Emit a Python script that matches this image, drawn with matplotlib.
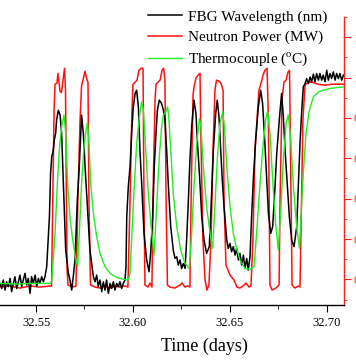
import matplotlib
matplotlib.use("Agg")
import matplotlib.pyplot as plt
from matplotlib.ticker import MultipleLocator

plt.rcParams['font.family'] = ['Liberation Serif', 'DejaVu Serif']
plt.rcParams['mathtext.fontset'] = 'custom'
plt.rcParams['mathtext.rm'] = 'Liberation Serif'

# ---- data (time in days, normalised signal on the power axis) ----
fbg_t = [32.5314, 32.5323, 32.5331, 32.5340, 32.5348, 32.5357, 32.5366, 32.5374, 32.5383, 32.5391,
         32.5400, 32.5409, 32.5417, 32.5426, 32.5434, 32.5443, 32.5452, 32.5460, 32.5469, 32.5477,
         32.5486, 32.5495, 32.5503, 32.5512, 32.5520, 32.5529, 32.5538, 32.5546,
         32.5555, 32.5569, 32.5575, 32.5581, 32.5589, 32.5594, 32.5601, 32.5606, 32.5615, 32.5624,
         32.5632, 32.5637, 32.5644, 32.5653, 32.5667, 32.5675, 32.5684, 32.5692, 32.5701, 32.5713,
         32.5723, 32.5735, 32.5744, 32.5753, 32.5765, 32.5778, 32.5796,
         32.5804, 32.5813, 32.5821, 32.5830, 32.5839, 32.5847, 32.5856, 32.5864, 32.5873, 32.5882,
         32.5890, 32.5899, 32.5907, 32.5916, 32.5925, 32.5933, 32.5942, 32.5950,
         32.5959, 32.5964, 32.5968, 32.5976, 32.5985, 32.5993, 32.6002, 32.6011, 32.6019, 32.6028,
         32.6036, 32.6045, 32.6057, 32.6071, 32.6083, 32.6091, 32.6102, 32.6110, 32.6119, 32.6126,
         32.6136, 32.6148, 32.6157, 32.6165, 32.6174, 32.6183, 32.6195,
         32.6208, 32.6217, 32.6226, 32.6234, 32.6243, 32.6251, 32.6260, 32.6269,
         32.6277, 32.6286, 32.6294, 32.6303, 32.6315, 32.6325, 32.6332, 32.6343, 32.6355, 32.6367,
         32.6380, 32.6394, 32.6403, 32.6415, 32.6427, 32.6435, 32.6444, 32.6453, 32.6461, 32.6470,
         32.6484, 32.6492, 32.6501, 32.6509, 32.6518, 32.6527, 32.6535, 32.6544, 32.6552, 32.6561,
         32.6570, 32.6578, 32.6587, 32.6595, 32.6604,
         32.6613, 32.6621, 32.6633, 32.6647, 32.6659, 32.6669, 32.6678, 32.6687, 32.6699, 32.6711,
         32.6721, 32.6733, 32.6742, 32.6755, 32.6767, 32.6776, 32.6785, 32.6797, 32.6807, 32.6819,
         32.6831, 32.6845, 32.6853, 32.6862, 32.6871, 32.6879,
         32.6888, 32.6896, 32.6905, 32.6914, 32.6922, 32.6931, 32.6939, 32.6948, 32.6957, 32.6965,
         32.6974, 32.6982, 32.6991, 32.7000, 32.7008, 32.7017, 32.7025, 32.7034, 32.7043, 32.7051,
         32.7060, 32.7068, 32.7077, 32.7086]
fbg_v = [-0.020, -0.045, -0.003, -0.053, -0.012, -0.036, 0.005, -0.061, -0.020, 0.013,
         -0.045, -0.012, 0.021, -0.036, -0.003, 0.030, -0.028, 0.005, -0.069, 0.013,
         -0.020, 0.021, -0.036, 0.005, -0.020, 0.013, -0.012, 0.013,
         0.063, 0.310, 0.525, 0.607, 0.640, 0.690, 0.723, 0.789, 0.838, 0.814,
         0.723, 0.591, 0.393, 0.145, 0.030, -0.003, -0.053, 0.013, 0.096, 0.393,
         0.558, 0.814, 0.723, 0.558, 0.360, 0.145, 0.013,
         -0.012, 0.021, -0.036, -0.003, -0.061, -0.012, -0.053, -0.003, -0.069, -0.020,
         -0.045, -0.012, -0.053, -0.020, -0.036, -0.012, -0.045, -0.020,
         -0.003, 0.063, 0.310, 0.459, 0.558, 0.723, 0.855, 0.921, 0.937, 0.855,
         0.640, 0.475, 0.228, 0.096, 0.038, 0.129, 0.310, 0.558, 0.723, 0.838,
         0.888, 0.871, 0.838, 0.789, 0.640, 0.459, 0.261,
         0.145, 0.104, 0.112, 0.071, 0.096, 0.054, 0.079, 0.054,
         0.195, 0.393, 0.591, 0.756, 0.888, 0.822, 0.690, 0.525, 0.310, 0.195,
         0.129, 0.162, 0.360, 0.640, 0.822, 0.888, 0.805, 0.640, 0.492, 0.360,
         0.195, 0.153, 0.178, 0.137, 0.162, 0.120, 0.153, 0.096, 0.129, 0.071,
         0.120, 0.054, 0.104, 0.046, 0.112,
         0.327, 0.492, 0.690, 0.855, 0.937, 0.871, 0.723, 0.558, 0.327, 0.228,
         0.261, 0.459, 0.624, 0.789, 0.921, 0.805, 0.640, 0.459, 0.310, 0.195,
         0.162, 0.261, 0.459, 0.673, 0.838, 0.954,
         0.970, 0.995, 0.970, 1.003, 0.979, 1.017, 0.979, 1.020, 0.987, 1.020,
         0.987, 1.012, 0.979, 1.036, 0.987, 1.020, 0.995, 1.028, 0.987, 1.020,
         0.995, 1.020, 0.987, 1.012]

power_t = [32.5314, 32.5366, 32.5417, 32.5469, 32.5520, 32.5572, 32.5580, 32.5593, 32.5598, 32.5608,
           32.5613, 32.5624, 32.5631, 32.5639, 32.5647, 32.5652, 32.5660, 32.5665, 32.5686, 32.5706,
           32.5716, 32.5727, 32.5735, 32.5742, 32.5753, 32.5760, 32.5768, 32.5773, 32.5781, 32.5804,
           32.5830, 32.5856, 32.5882, 32.5907, 32.5933, 32.5959, 32.5974, 32.5985, 32.5995, 32.6000,
           32.6011, 32.6021, 32.6031, 32.6042, 32.6052, 32.6057, 32.6062, 32.6078, 32.6088, 32.6098,
           32.6103, 32.6114, 32.6119, 32.6129, 32.6140, 32.6150, 32.6158, 32.6165, 32.6171, 32.6178,
           32.6191, 32.6217, 32.6243, 32.6253, 32.6269, 32.6284, 32.6294, 32.6300, 32.6310, 32.6315,
           32.6325, 32.6336, 32.6346, 32.6351, 32.6361, 32.6372, 32.6382, 32.6392, 32.6403, 32.6413,
           32.6423, 32.6431, 32.6444, 32.6454, 32.6465, 32.6470, 32.6480, 32.6501, 32.6521, 32.6537,
           32.6552, 32.6568, 32.6583, 32.6599, 32.6609, 32.6619, 32.6630, 32.6640, 32.6650, 32.6661,
           32.6671, 32.6681, 32.6692, 32.6699, 32.6707, 32.6718, 32.6738, 32.6754, 32.6759, 32.6769,
           32.6779, 32.6790, 32.6800, 32.6808, 32.6813, 32.6821, 32.6836, 32.6852, 32.6862, 32.6867,
           32.6877, 32.6888, 32.6903, 32.6924, 32.6955, 32.6991, 32.7027, 32.7068, 32.7089]
power_v = [-0.038, -0.033, -0.043, -0.033, -0.038, -0.033, -0.033, 0.838, 0.967, 0.972,
           1.021, 0.932, 0.926, 0.987, 1.046, 0.937, 0.046, -0.028, -0.038, -0.033,
           0.393, 0.789, 0.962, 0.987, 1.031, 0.997, 0.977, 0.393, -0.028, -0.038,
           -0.043, -0.033, -0.043, -0.033, -0.038, -0.033, -0.038, 0.393, 0.838, 0.967,
           0.977, 0.987, 1.036, 1.046, 1.046, 0.393, -0.028, -0.038, -0.018, -0.038,
           0.393, 0.888, 0.967, 0.977, 0.987, 1.036, 1.046, 0.987, 0.393, -0.028,
           -0.038, -0.043, -0.028, -0.018, -0.038, -0.033, -0.038, 0.393, 0.913, 0.952,
           0.997, 1.011, 1.021, 0.690, 0.195, -0.003, -0.053, -0.028, 0.195, 0.640,
           0.937, 0.987, 0.982, 0.972, 0.937, 0.393, 0.071, 0.021, -0.003, -0.038,
           -0.043, -0.033, -0.018, -0.038, -0.033, 0.195, 0.640, 0.789, 0.937, 0.972,
           1.011, 1.036, 1.046, 0.789, -0.028, -0.053, -0.043, -0.028, 0.393, 0.888,
           0.977, 0.987, 1.026, 1.036, 0.640, -0.028, -0.043, -0.033, -0.038, 0.244,
           0.789, 0.962, 0.977, 0.977, 0.967, 0.962, 0.967, 0.967, 0.967]

tc_t = [32.5314, 32.5400, 32.5486, 32.5572, 32.5581, 32.5598, 32.5610, 32.5620, 32.5632, 32.5644,
        32.5653, 32.5663, 32.5675, 32.5689, 32.5706, 32.5715, 32.5723, 32.5735, 32.5747, 32.5758,
        32.5765, 32.5772, 32.5782, 32.5796, 32.5813, 32.5830, 32.5856, 32.5882, 32.5916, 32.5950,
        32.5976, 32.5985, 32.5993, 32.6005, 32.6019, 32.6033, 32.6045, 32.6054, 32.6066, 32.6079,
        32.6097, 32.6109, 32.6122, 32.6136, 32.6148, 32.6157, 32.6169, 32.6179, 32.6186, 32.6195,
        32.6208, 32.6226, 32.6246, 32.6269, 32.6291, 32.6303, 32.6315, 32.6329, 32.6343, 32.6351,
        32.6363, 32.6380, 32.6398, 32.6411, 32.6423, 32.6435, 32.6449, 32.6463, 32.6472, 32.6484,
        32.6501, 32.6518, 32.6535, 32.6552, 32.6578, 32.6604, 32.6625, 32.6638, 32.6652, 32.6669,
        32.6685, 32.6695, 32.6707, 32.6721, 32.6736, 32.6750, 32.6764, 32.6776, 32.6790, 32.6802,
        32.6814, 32.6828, 32.6845, 32.6859, 32.6867, 32.6879, 32.6893, 32.6910, 32.6931, 32.6957,
        32.6982, 32.7017, 32.7051, 32.7086]
tc_v = [-0.020, -0.023, -0.020, -0.020, -0.012, 0.228, 0.475, 0.640, 0.756, 0.814,
        0.723, 0.475, 0.310, 0.195, 0.096, 0.063, 0.228, 0.475, 0.657, 0.739,
        0.776, 0.690, 0.475, 0.327, 0.211, 0.129, 0.063, 0.030, 0.010, 0.000,
        -0.003, 0.030, 0.195, 0.426, 0.673, 0.805, 0.880, 0.838, 0.640, 0.426,
        0.228, 0.120, 0.360, 0.607, 0.756, 0.814, 0.830, 0.855, 0.789, 0.640,
        0.426, 0.261, 0.145, 0.079, 0.054, 0.228, 0.459, 0.673, 0.797, 0.756,
        0.558, 0.360, 0.228, 0.153, 0.360, 0.591, 0.772, 0.830, 0.756, 0.558,
        0.360, 0.228, 0.153, 0.096, 0.054, 0.050, 0.063, 0.228, 0.426, 0.640,
        0.789, 0.835, 0.723, 0.492, 0.277, 0.145, 0.360, 0.591, 0.772, 0.814,
        0.690, 0.459, 0.261, 0.153, 0.310, 0.525, 0.723, 0.838, 0.904, 0.929,
        0.937, 0.946, 0.950, 0.954]

x_ticks = [32.55, 32.60, 32.65, 32.70]
x_ticklabels = ["32.55", "32.60", "32.65", "32.70"]
power_ticks = [0.0, 0.2, 0.4, 0.6, 0.8, 1.0, 1.2]
power_ticklabels = ["0.0", "0.2", "0.4", "0.6", "0.8", "1.0", "1.2"]

# ---- figure ----
fig = plt.figure(figsize=(3.56, 3.64), dpi=100)
ax = fig.add_axes([0.0, 59/364, 344/356, 288/364])

l_pow, = ax.plot(power_t, power_v, color='#ff1010', lw=1.1, zorder=2, label='Neutron Power (MW)')
l_fbg, = ax.plot(fbg_t, fbg_v, color='black', lw=1.1, zorder=3, label='FBG Wavelength (nm)')
l_tc, = ax.plot(tc_t, tc_v, color='#22ee22', lw=1.0, zorder=4, label=r'Thermocouple ($^{\rm o}$C)')

ax.set_xlim(32.5314, 32.7089)
ax.set_ylim(-0.127, 1.300)

for s in ('left', 'top'):
    ax.spines[s].set_visible(False)
ax.spines['right'].set_color('#ff2020')
ax.spines['bottom'].set_color('black')
ax.spines['right'].set_linewidth(1.0)
ax.spines['bottom'].set_linewidth(1.0)

ax.yaxis.tick_right()
ax.set_yticks(power_ticks)
ax.set_yticklabels(power_ticklabels)
ax.yaxis.set_minor_locator(MultipleLocator(0.1))
ax.tick_params(axis='y', which='both', direction='out', colors='#ff2020', labelsize=9, pad=2,
               left=False, right=True)
ax.tick_params(axis='y', which='major', length=5)
ax.tick_params(axis='y', which='minor', length=2.5)

ax.set_xticks(x_ticks)
ax.set_xticklabels(x_ticklabels)
ax.xaxis.set_minor_locator(MultipleLocator(0.025))
ax.tick_params(axis='x', which='both', direction='out', labelsize=9, colors='black')
ax.tick_params(axis='x', which='major', length=5)
ax.tick_params(axis='x', which='minor', length=3)

ax.set_xlabel('Time (days)', fontsize=13)
ax.xaxis.set_label_coords(0.593, -0.115)

leg = ax.legend(handles=[l_fbg, l_pow, l_tc], loc='upper left',
                bbox_to_anchor=(148/344, (305 - 10)/288), frameon=False, fontsize=11,
                handlelength=2.25, handletextpad=0.35, borderpad=0, borderaxespad=0,
                labelspacing=0.42)

fig.savefig('out.png', dpi=100)
